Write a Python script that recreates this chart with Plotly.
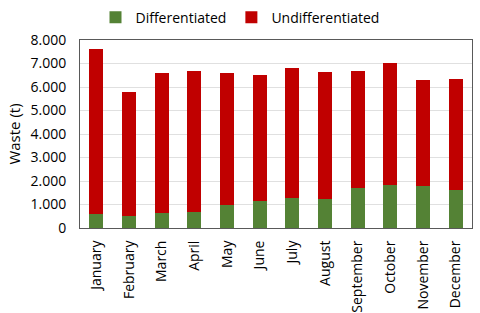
import plotly.graph_objects as go

months = ["January", "February", "March", "April", "May", "June", "July",
          "August", "September", "October", "November", "December"]
differentiated = [600, 510, 625, 680, 990, 1135, 1275, 1220, 1700, 1830, 1800, 1600]
totals = [7600, 5800, 6580, 6690, 6580, 6500, 6810, 6640, 6670, 7010, 6310, 6340]
undifferentiated = [t - d for t, d in zip(totals, differentiated)]
y_ticks = [0, 1000, 2000, 3000, 4000, 5000, 6000, 7000, 8000]

fig = go.Figure()
fig.add_trace(go.Bar(x=months, y=differentiated, name="Differentiated",
                     marker=dict(color="#548235", line=dict(width=0))))
fig.add_trace(go.Bar(x=months, y=undifferentiated, name="Undifferentiated",
                     marker=dict(color="#C00000", line=dict(width=0))))

fig.update_layout(
    barmode="stack",
    bargap=0.57,
    width=480, height=313,
    margin=dict(l=80, r=8, t=40, b=85, autoexpand=False),
    paper_bgcolor="white", plot_bgcolor="white",
    separators=",.",
    font=dict(family="Open Sans", size=14, color="#000000"),
    showlegend=True,
    legend=dict(orientation="h", x=0.5, xanchor="center", xref="container",
                y=0.995, yanchor="top", yref="container",
                font=dict(size=14), itemwidth=30, traceorder="normal"),
    xaxis=dict(tickangle=-90, showline=True, linecolor="#595959", linewidth=1,
               mirror=True, ticks="", tickfont=dict(size=14), ticklabelstandoff=6),
    yaxis=dict(range=[0, 8000], tickvals=y_ticks, tickformat=",d",
               showgrid=True, gridcolor="#E0E0E0", gridwidth=1,
               showline=True, linecolor="#595959", linewidth=1, mirror=True,
               ticks="", tickfont=dict(size=14), ticklabelstandoff=10,
               title=dict(text="Waste (t)", font=dict(size=15), standoff=6)),
)
fig.write_html("out.html", config={"displayModeBar": False},
               post_script="document.body.style.margin='0';document.body.style.overflow='hidden';")
